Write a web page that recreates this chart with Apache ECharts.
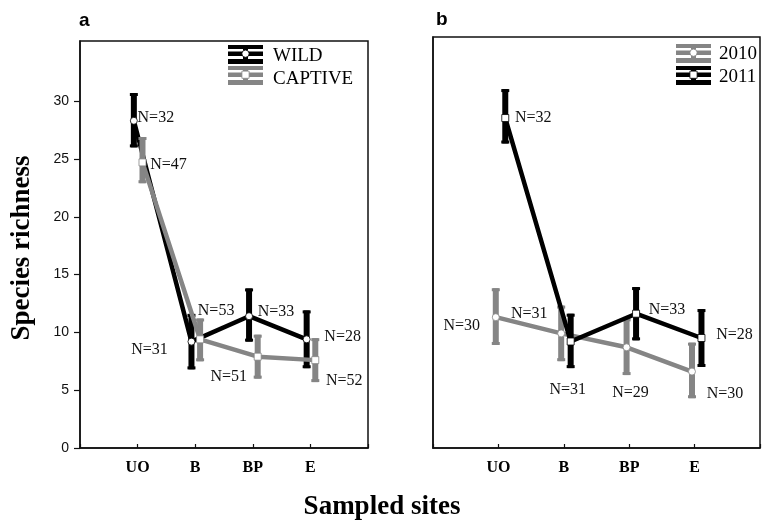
<!DOCTYPE html>
<html>
<head>
<meta charset="utf-8">
<title>Species richness by sampled site</title>
<script src="https://cdn.jsdelivr.net/npm/echarts@6/dist/echarts.min.js"></script>
<style>
  html, body { margin: 0; padding: 0; background: #fff; }
  #chart { width: 763px; height: 521px; }
</style>
</head>
<body>
<div id="chart"></div>
<script>
// Sampled sites (x categories, shared by both panels)
const sites = ['UO', 'B', 'BP', 'E'];
const yTicks = [0, 5, 10, 15, 20, 25, 30];

// Panel a: wild vs captive animals
const wildMean = [28.3, 9.2, 11.4, 9.4];
const wildLow = [26.0, 6.8, 9.2, 6.9];
const wildHigh = [30.7, 11.6, 13.8, 11.9];
const wildN = [32, 31, 33, 28];

const captiveMean = [24.7, 9.4, 7.9, 7.6];
const captiveLow = [22.9, 7.5, 6.0, 5.7];
const captiveHigh = [26.9, 11.2, 9.8, 9.5];
const captiveN = [47, 53, 51, 52];

// Panel b: sampling years
const y2010Mean = [11.3, 9.9, 8.7, 6.6];
const y2010Low = [8.9, 7.5, 6.3, 4.3];
const y2010High = [13.8, 12.3, 11.2, 9.1];
const y2010N = [30, 31, 29, 30];

const y2011Mean = [28.5, 9.2, 11.6, 9.5];
const y2011Low = [26.3, 6.9, 9.3, 7.0];
const y2011High = [31.0, 11.6, 13.9, 12.0];
const y2011N = [32, 31, 33, 28];

// ---- layout / style (kept apart from the values) ----
const GRAY = '#858585';
const BLACK = '#000';
const SERIF = '"Liberation Serif", "Times New Roman", serif';
const SANS = '"Liberation Sans", Arial, sans-serif';

// horizontal dodge of the two groups around each site position
const dodgeA = [-0.065, 0.085];
const dodgeB = [-0.04, 0.105];

// where each "N=" label sits relative to its point (px)
const wildLabelOffsets = [[22, -3], [-42, 8], [27, -4], [36, -3]];
const captiveLabelOffsets = [[26, 2], [16, -29], [-29, 20], [29, 21]];
const y2010LabelOffsets = [[-34, 9], [-32, -20], [4, 46], [33, 22]];
const y2011LabelOffsets = [[28, 0], [-3, 48], [31, -4], [33, -3]];

function siteX(i, d) { return i + 1 + d; }

function errorBarData(low, high, d) {
  return low.map((lo, i) => [siteX(i, d), lo, high[i]]);
}

function meanData(mean, d, offsets) {
  return mean.map((m, i) => ({
    value: [siteX(i, d), m],
    label: { offset: offsets[i] }
  }));
}

function errorBarRenderer(color) {
  return function (params, api) {
    const x = api.value(0);
    const lo = api.coord([x, api.value(1)]);
    const hi = api.coord([x, api.value(2)]);
    const barW = 6, capW = 8, capH = 3;
    return {
      type: 'group',
      children: [
        { type: 'rect', shape: { x: lo[0] - barW / 2, y: hi[1], width: barW, height: lo[1] - hi[1] }, style: { fill: color } },
        { type: 'rect', shape: { x: hi[0] - capW / 2, y: hi[1], width: capW, height: capH }, style: { fill: color } },
        { type: 'rect', shape: { x: lo[0] - capW / 2, y: lo[1] - capH, width: capW, height: capH }, style: { fill: color } }
      ]
    };
  };
}

function errorSeries(idx, low, high, d, color, z) {
  return {
    type: 'custom',
    xAxisIndex: idx, yAxisIndex: idx,
    data: errorBarData(low, high, d),
    encode: { x: 0, y: [1, 2] },
    renderItem: errorBarRenderer(color),
    z: z,
    silent: true
  };
}

function meanSeries(idx, mean, d, offsets, counts, color, symbol, z) {
  return {
    type: 'line',
    xAxisIndex: idx, yAxisIndex: idx,
    data: meanData(mean, d, offsets),
    symbol: symbol,
    symbolSize: 7,
    showAllSymbol: true,
    lineStyle: { color: color, width: 4.5 },
    itemStyle: { color: '#fff', borderColor: color, borderWidth: 0.8 },
    label: {
      show: true,
      position: 'inside',
      formatter: (p) => 'N=' + counts[p.dataIndex],
      fontFamily: SERIF,
      fontSize: 16,
      color: '#111'
    },
    z: z,
    silent: true
  };
}

function xAxisFor(idx) {
  return {
    type: 'value', gridIndex: idx, min: 0, max: 5, interval: 1,
    axisLine: { show: true, lineStyle: { color: '#111', width: 1.5 } },
    axisTick: { show: true, inside: true, length: 4, lineStyle: { color: '#111', width: 1.2 } },
    axisLabel: {
      formatter: (v) => sites[v - 1] || '',
      fontFamily: SERIF, fontWeight: 'bold', fontSize: 16, color: '#000', margin: 12
    },
    splitLine: { show: false }
  };
}

// Legend glyph: stacked whisker bars with the point marker in the middle
function legendGlyph(x0, y0, color, markerType) {
  const w = 35, cx = x0 + w / 2;
  const items = [
    { type: 'rect', shape: { x: x0, y: y0, width: w, height: 4 }, style: { fill: color } },
    { type: 'rect', shape: { x: x0, y: y0 + 6.5, width: w, height: 4.5 }, style: { fill: color } },
    { type: 'rect', shape: { x: x0, y: y0 + 14, width: w, height: 5 }, style: { fill: color } },
    { type: 'rect', shape: { x: cx - 2.5, y: y0, width: 5, height: 19 }, style: { fill: color } }
  ];
  if (markerType === 'circle') {
    items.push({ type: 'circle', shape: { cx: cx, cy: y0 + 8.7, r: 3.6 }, style: { fill: '#fff', stroke: color, lineWidth: 0.8 } });
  } else {
    items.push({ type: 'rect', shape: { x: cx - 3.6, y: y0 + 5.1, width: 7.2, height: 7.2 }, style: { fill: '#fff', stroke: color, lineWidth: 0.8 } });
  }
  return items;
}

function legendText(x, y, text) {
  return { type: 'text', x: x, y: y, style: { text: text, font: '19px ' + SERIF, fill: '#000', textAlign: 'left', textVerticalAlign: 'middle' } };
}

const chart = echarts.init(document.getElementById('chart'), null, { renderer: 'canvas' });

const option = {
  animation: false,
  backgroundColor: '#fff',
  grid: [
    { left: 80, right: 395, top: 41, bottom: 73, show: true, borderColor: '#111', borderWidth: 1.5, backgroundColor: 'transparent' },
    { left: 433, right: 2, top: 37, bottom: 73, show: true, borderColor: '#111', borderWidth: 1.5, backgroundColor: 'transparent' }
  ],
  xAxis: [xAxisFor(0), xAxisFor(1)],
  yAxis: [
    {
      type: 'value', gridIndex: 0, min: 0, max: 35.2, interval: 5,
      axisLine: { show: true, lineStyle: { color: '#111', width: 1.5 } },
      axisTick: { show: true, inside: false, length: 6, customValues: yTicks, lineStyle: { color: '#111', width: 1.2 } },
      axisLabel: {
        customValues: yTicks,
        formatter: (v) => (v <= 30 ? String(v) : ''),
        fontFamily: SANS, fontSize: 14, color: '#111', margin: 11
      },
      splitLine: { show: false }
    },
    {
      type: 'value', gridIndex: 1, min: 0, max: 35.5, interval: 5,
      axisLine: { show: true, lineStyle: { color: '#111', width: 1.5 } },
      axisTick: { show: false },
      axisLabel: { show: false },
      splitLine: { show: false }
    }
  ],
  series: [
    // panel a
    errorSeries(0, wildLow, wildHigh, dodgeA[0], BLACK, 2),
    meanSeries(0, wildMean, dodgeA[0], wildLabelOffsets, wildN, BLACK, 'circle', 3),
    errorSeries(0, captiveLow, captiveHigh, dodgeA[1], GRAY, 4),
    meanSeries(0, captiveMean, dodgeA[1], captiveLabelOffsets, captiveN, GRAY, 'rect', 5),
    // panel b
    errorSeries(1, y2010Low, y2010High, dodgeB[0], GRAY, 2),
    meanSeries(1, y2010Mean, dodgeB[0], y2010LabelOffsets, y2010N, GRAY, 'circle', 3),
    errorSeries(1, y2011Low, y2011High, dodgeB[1], BLACK, 4),
    meanSeries(1, y2011Mean, dodgeB[1], y2011LabelOffsets, y2011N, BLACK, 'rect', 5)
  ],
  graphic: [
    { type: 'text', x: 79, y: 21, style: { text: 'a', font: 'bold 19px ' + SANS, fill: '#000', textVerticalAlign: 'middle' } },
    { type: 'text', x: 436, y: 20, style: { text: 'b', font: 'bold 19px ' + SANS, fill: '#000', textVerticalAlign: 'middle' } },
    { type: 'text', x: 22, y: 248, rotation: Math.PI / 2, style: { text: 'Species richness', font: 'bold 27px ' + SERIF, fill: '#000', textAlign: 'center', textVerticalAlign: 'middle' } },
    { type: 'text', x: 382, y: 507, style: { text: 'Sampled sites', font: 'bold 27px ' + SERIF, fill: '#000', textAlign: 'center', textVerticalAlign: 'middle' } },
    { type: 'group', children: legendGlyph(228, 45, BLACK, 'circle').concat(legendGlyph(228, 66, GRAY, 'rect')) },
    legendText(273, 56, 'WILD'),
    legendText(273, 79, 'CAPTIVE'),
    { type: 'group', children: legendGlyph(676, 44, GRAY, 'circle').concat(legendGlyph(676, 66, BLACK, 'rect')) },
    legendText(719, 54, '2010'),
    legendText(719, 77, '2011')
  ]
};

chart.setOption(option);
</script>
</body>
</html>
